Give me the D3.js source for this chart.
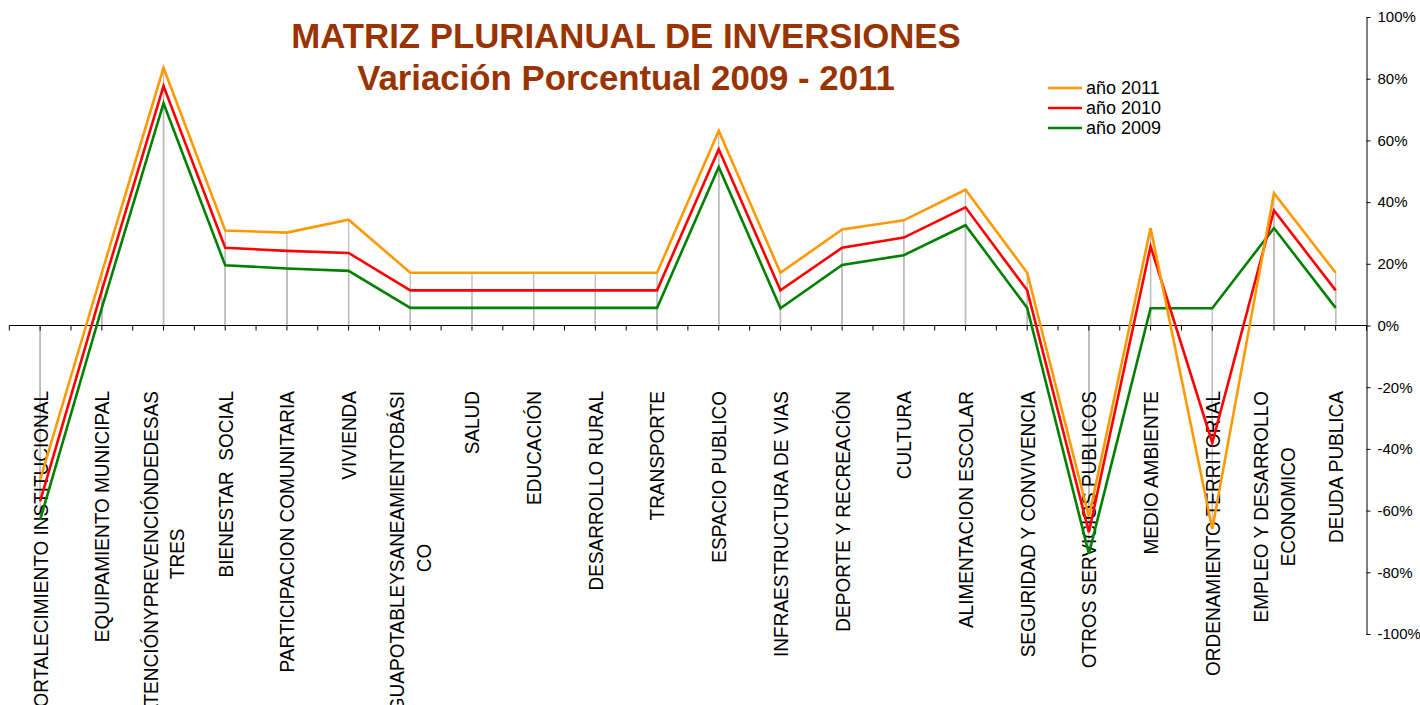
<!DOCTYPE html>
<html>
<head>
<meta charset="utf-8">
<script src="https://cdn.jsdelivr.net/npm/d3@7"></script>
<style>
  body { margin: 0; background: #fff; }
  svg { display: block; font-family: Arial, "Liberation Sans", sans-serif; }
</style>
</head>
<body>
<svg id="chart" width="1420" height="705"></svg>
<script>
// ---------------------------------------------------------------------------
// Data (percent variation per investment sector)
// ---------------------------------------------------------------------------
const categories = [
  "FORTALECIMIENTO INSTITUCIONAL",
  "EQUIPAMIENTO MUNICIPAL",
  "ATENCIÓNYPREVENCIÓNDEDESAS\nTRES",
  "BIENESTAR  SOCIAL",
  "PARTICIPACION COMUNITARIA",
  "VIVIENDA",
  "AGUAPOTABLEYSANEAMIENTOBÁSI\nCO",
  "SALUD",
  "EDUCACIÓN",
  "DESARROLLO RURAL",
  "TRANSPORTE",
  "ESPACIO PUBLICO",
  "INFRAESTRUCTURA DE VIAS",
  "DEPORTE Y RECREACIÓN",
  "CULTURA",
  "ALIMENTACION ESCOLAR",
  "SEGURIDAD Y CONVIVENCIA",
  "OTROS SERVICIOS PUBLICOS",
  "MEDIO AMBIENTE",
  "ORDENAMIENTO TERRITORIAL",
  "EMPLEO Y DESARROLLO\nECONOMICO",
  "DEUDA PUBLICA",
];

const values2011 = [-50, 17.1, 83.5, 30.8, 30.1, 34.3, 17.1, 17.1, 17.1, 17.1, 17.1, 63.1, 17.1, 31.1, 34.1, 44.0, 17.1, -62, 31.6, -66, 42.9, 17.1];
const values2010 = [-57, 11.4, 77.6, 25.2, 24.2, 23.5, 11.4, 11.4, 11.4, 11.4, 11.4, 57.1, 11.4, 25.2, 28.5, 38.3, 11.4, -67, 25.7, -38, 37.3, 11.4];
const values2009 = [-63, 5.7, 72.0, 19.5, 18.5, 17.7, 5.7, 5.7, 5.7, 5.7, 5.7, 51.4, 5.6, 19.6, 22.8, 32.5, 5.7, -74, 5.6, 5.6, 31.6, 5.7];

const seriesNames = ["año 2011", "año 2010", "año 2009"];
const seriesColors = ["#FF9900", "#FF0000", "#008000"];
const yTicks = [-100, -80, -60, -40, -20, 0, 20, 40, 60, 80, 100];

const titleLines = ["MATRIZ PLURIANUAL DE INVERSIONES", "Variación Porcentual 2009 - 2011"];

// ---------------------------------------------------------------------------
// Scales
// ---------------------------------------------------------------------------
const svg = d3.select("#chart");
const series = [values2011, values2010, values2009].map((vals, i) => ({
  name: seriesNames[i], color: seriesColors[i], values: vals,
}));

const x = d3.scaleBand().domain(categories).range([9.3, 1366.5]).padding(0);
const cx = c => x(c) + x.bandwidth() / 2;
const y = d3.scaleLinear().domain([-100, 100]).range([634, 17]);

// Drop lines (gray) from the axis to each point
const drops = [];
series.forEach(s => s.values.forEach((v, i) => drops.push({ c: categories[i], v })));
svg.append("g")
  .selectAll("line")
  .data(drops)
  .join("line")
  .attr("x1", d => cx(d.c)).attr("x2", d => cx(d.c))
  .attr("y1", y(0)).attr("y2", d => y(d.v))
  .attr("stroke", "#bdbdbd")
  .attr("stroke-width", 1.3);

// Category axis at 0%
const xAxis = svg.append("g");
xAxis.append("line")
  .attr("x1", x.range()[0]).attr("x2", x.range()[1])
  .attr("y1", y(0)).attr("y2", y(0))
  .attr("stroke", "#000").attr("stroke-width", 1);
const tickXs = categories.flatMap(c => [x(c), cx(c)]).concat([x.range()[1]]);
xAxis.selectAll("line.tick")
  .data(tickXs)
  .join("line")
  .attr("class", "tick")
  .attr("x1", d => d).attr("x2", d => d)
  .attr("y1", y(0)).attr("y2", y(0) + 5)
  .attr("stroke", "#000").attr("stroke-width", 1);

// Right value axis
const yAxis = svg.append("g")
  .attr("transform", `translate(${x.range()[1]},0)`)
  .call(d3.axisRight(y).tickValues(yTicks).tickSize(4).tickSizeOuter(0).tickPadding(7)
    .tickFormat(d => d + "%"));
yAxis.select(".domain").attr("stroke", "#000");
yAxis.selectAll(".tick line").attr("stroke", "#000");
yAxis.selectAll(".tick text")
  .attr("fill", "#000")
  .style("font-size", "15px")
  .style("font-family", 'Arial, "Liberation Sans", sans-serif');

// Category labels, rotated, top-aligned, lines centered
const labelFont = 19;
const stretch = 1.08;           // glyphs look a bit taller in the original
const lineH = 26.5 / stretch;
const labelTop = 391;
const labels = svg.append("g");
categories.forEach(c => {
  const lines = c.split("\n");
  const g = labels.append("g")
    .attr("transform", `translate(${cx(c)},${labelTop}) rotate(-90) scale(1,${stretch})`);
  const texts = lines.map((ln, i) => g.append("text")
    .attr("y", (i - (lines.length - 1) / 2) * lineH + labelFont * 0.36)
    .attr("text-anchor", "middle")
    .style("font-size", labelFont + "px")
    .style("white-space", "pre")
    .attr("fill", "#000")
    .text(ln));
  const maxW = d3.max(texts, t => t.node().getComputedTextLength());
  texts.forEach(t => t.attr("x", -maxW / 2));
});

// Series lines (2009 first so 2011 sits on top)
const line = d3.line()
  .x((d, i) => cx(categories[i]))
  .y(d => y(d));
svg.append("g")
  .selectAll("path")
  .data(series.slice().reverse())
  .join("path")
  .attr("d", d => line(d.values))
  .attr("fill", "none")
  .attr("stroke", d => d.color)
  .attr("stroke-width", 2.6)
  .attr("stroke-linejoin", "miter");

// Title
svg.append("g")
  .selectAll("text")
  .data(titleLines)
  .join("text")
  .attr("x", 626)
  .attr("y", (d, i) => 48 + i * 42)
  .attr("text-anchor", "middle")
  .attr("fill", "#993300")
  .style("font-size", "34.8px")
  .style("font-weight", "bold")
  .text(d => d);

// Legend
const legend = svg.append("g").attr("transform", "translate(1048,88)");
series.forEach((s, i) => {
  const row = legend.append("g").attr("transform", `translate(0,${i * 20})`);
  row.append("line").attr("x1", 0).attr("x2", 34).attr("y1", 0).attr("y2", 0)
    .attr("stroke", s.color).attr("stroke-width", 2.6);
  row.append("text").attr("x", 38).attr("y", 6)
    .style("font-size", "18px").attr("fill", "#000").text(s.name);
});
</script>
</body>
</html>
